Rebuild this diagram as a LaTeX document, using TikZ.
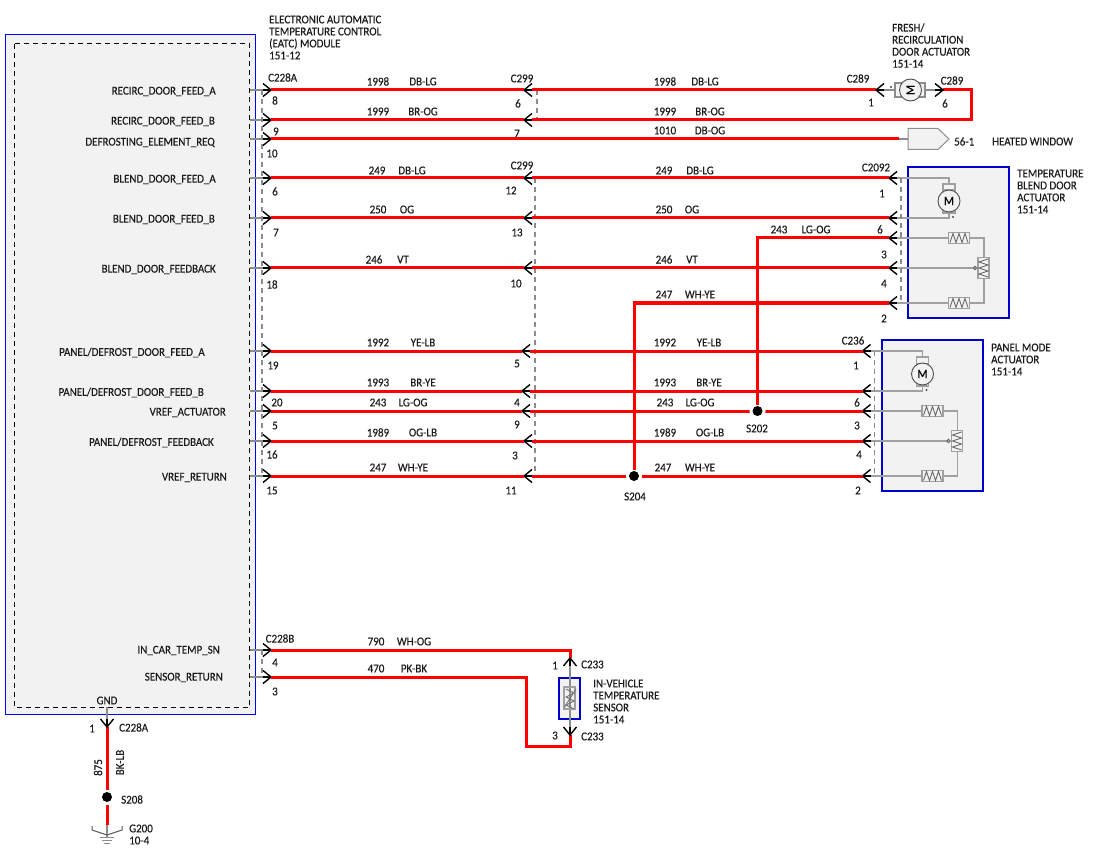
\documentclass[tikz,border=0pt]{standalone}
\usepackage{xcolor}
\usepackage{fontspec}
\setmainfont[FakeStretch=0.915,FakeBold=0.25]{Carlito}
\usepackage{tikz}
\usetikzlibrary{arrows,calc}

\definecolor{boxgray}{HTML}{F2F2F2}
\definecolor{stubgray}{HTML}{8C8C8C}
\definecolor{linegray}{HTML}{A0A0A0}
\definecolor{inkgray}{HTML}{1A1A1A}
\definecolor{compblue}{HTML}{0000CC}

\tikzset{
  wire/.style={draw=red, line width=3pt},
  stub/.style={draw=stubgray, line width=1.4pt},
  inner/.style={draw=linegray, line width=1.3pt},
  shield/.style={draw=stubgray, line width=1.6pt, dash pattern=on 5pt off 4pt},
  halo/.style={fill=white},
  lbl/.style={font=\fontsize{12}{12}\selectfont, text=inkgray, inner sep=0pt, align=left, yshift=-0.5pt},
  lble/.style={lbl, anchor=east},
  lblw/.style={lbl, anchor=west},
  pics/plug/.style={code={
    \draw[black, line width=1.4pt] (-8,-6.5) -- (0,0) -- (-8,6.5);
    \draw[black, line width=1.4pt] (-8,0) -- (0,0);
  }},
  pics/resist/.style={code={
    \draw[linegray, line width=1.2pt, fill=boxgray] (-10.5,-5.5) rectangle (10.5,5.5);
    \draw[black!60, line width=0.9pt] (-9,4.5) -- (-6,-4.5) -- (-3,4.5) -- (0,-4.5) -- (3,4.5) -- (6,-4.5) -- (9,4.5);
  }},
  pics/actuator/.style={code={
    \draw[compblue, fill=boxgray, line width=2pt] (0,0) rectangle (101,151);
    \coordinate (-p1) at (-19,11);
    \coordinate (-p6) at (-19,51);
    \coordinate (-p3) at (-19,71);
    \coordinate (-p4) at (-19,101);
    \coordinate (-p2) at (-19,136);
    \draw[inner] (-p1) -- (41,11) -- (41,17);
    \draw[inner] (-p6) -- (41,51) -- (41,46);
    \draw[inner] (-p3) -- (76,71) -- (76,136) -- (-p2);
    \draw[inner] (-p4) -- (68,101);
    \draw[shield] (-7,11) -- (-7,136);
    \draw[linegray, line width=1.2pt, fill=boxgray] (35,17) rectangle (47,46);
    \draw[linegray, line width=1pt] (35,23) -- (47,23) (35,40) -- (47,40);
    \node[circle, draw=black!70, fill=boxgray, line width=0.9pt, minimum size=22pt, inner sep=0pt,
      font=\fontsize{13}{13}\selectfont] (-m) at (41,34) {M};
    \fill[black!70] (45,50) circle (1.2pt);
    \pic at (51,71) {resist};
    \pic at (51,136) {resist};
    \pic at (75.5,101) [rotate=90] {resist};
    \draw[black!60, line width=1pt, fill=boxgray] (67,101) circle (1.6pt);
    \pic at (-p1) [rotate=180] {plug};
    \pic at (-p6) [rotate=180] {plug};
    \pic at (-p3) [rotate=180] {plug};
    \pic at (-p4) [rotate=180] {plug};
    \pic at (-p2) [rotate=180] {plug};
  }}
}

% module side pin: name, row
\newcommand{\modpin}[2]{
  \coordinate (#1) at (271,#2);
  \coordinate (#1i) at (250,#2);
  \draw[stub] (#1i) -- (#1);
  \pic at (#1) {plug};
}
% inline connector: name, x, row
\newcommand{\midpin}[3]{
  \coordinate (#1) at (#2,#3);
  \coordinate (#1b) at ($(#1) + (8,0)$);
  \pic at (#1) [rotate=180] {plug};
}

\begin{document}
\begin{tikzpicture}[x=1pt, y=-1pt]
  \useasboundingbox (0,0) rectangle (1100,850);

  % module
  \draw[blue, fill=boxgray, line width=1pt] (5.5,35) rectangle (255.5,714);
  \draw[black, line width=1pt, dash pattern=on 5pt off 4pt] (14.5,44) rectangle (249.5,707);

  % shields
  \draw[shield] (262,90) -- (262,477);
  \draw[shield] (262,650) -- (262,677);
  \draw[shield] (537,90) -- (537,120);
  \draw[shield] (534.7,178) -- (534.7,477);

  % module pins
  \modpin{ma}{90}
  \modpin{mb}{120}
  \modpin{mc}{139}
  \modpin{md}{178}
  \modpin{me}{218}
  \modpin{mf}{268}
  \modpin{mg}{351}
  \modpin{mh}{391}
  \modpin{mi}{411}
  \modpin{mj}{441}
  \modpin{mk}{476}
  \modpin{ml}{650}
  \modpin{mm}{677}

  % actuators
  \pic (tb) at (908,167) {actuator};
  \pic (pm) at (881.5,340) {actuator};

  % fresh air door motor
  \coordinate (fa) at (876,90);
  \coordinate (fb) at (943,90);
  \coordinate (fab) at (883,90);
  \coordinate (fbb) at (936,90);
  \coordinate (fc) at (971,90);
  \coordinate (fd) at (971,120);
  \draw[stub] (fab) -- (fbb);
  \draw[stubgray, line width=1.2pt, fill=boxgray] (895,83) rectangle (925,97);
  \node[circle, draw=black!70, fill=boxgray, line width=0.9pt, minimum size=22pt, inner sep=0pt,
    font=\fontsize{13}{13}\selectfont, rotate=90] (fm) at (910.5,90) {M};
  \fill[black!70] (891,87) circle (1.2pt);

  % heated window connector
  \coordinate (hw) at (899,139);
  \coordinate (hwbox) at (908,139);
  \draw[stubgray, fill=boxgray, line width=1pt] (908,128.5) -- (938,128.5) -- (949,139) -- (938,149.5) -- (908,149.5) -- cycle;
  \draw[stub] (hw) -- (hwbox);

  % inline connectors
  \midpin{xa}{524}{90}
  \midpin{xb}{524}{120}
  \midpin{xd}{524}{178}
  \midpin{xe}{524}{218}
  \midpin{xf}{524}{268}
  \midpin{xg}{522}{351}
  \midpin{xh}{522}{391}
  \midpin{xi}{522}{411}
  \midpin{xj}{524}{441}
  \midpin{xk}{524}{476}

  % splices
  \coordinate (sb) at (757.5,411);
  \coordinate (sc) at (634,476);
  \coordinate (sbt) at (757.5,238);
  \coordinate (sct) at (634,303);

  % wires
  \draw[wire] (ma) -- (xa) (xab) -- (fa);
  \draw[wire] (fb) -- (fc) -- (fd) -- (xbb) (xb) -- (mb);
  \draw[wire] (mc) -- (hw);
  \draw[wire] (md) -- (xd) (xdb) -- (tb-p1);
  \draw[wire] (me) -- (xe) (xeb) -- (tb-p6);
  \draw[wire] (sbt) -- (tb-p3);
  \draw[wire] (mf) -- (xf) (xfb) -- (tb-p4);
  \draw[wire] (sct) -- (tb-p2);
  \draw[wire] (mg) -- (xg) (xgb) -- (pm-p1);
  \draw[wire] (mh) -- (xh) (xhb) -- (pm-p6);
  \draw[wire] (mi) -- (xi) (xib) -- (pm-p3);
  \draw[wire] (mj) -- (xj) (xjb) -- (pm-p4);
  \draw[wire] (mk) -- (xk) (xkb) -- (pm-p2);
  \fill[halo] (sb) circle (8pt);
  \fill[halo] (sc) circle (8pt);
  \draw[wire, line cap=rect] (sbt) -- ($(sb) + (0,-8)$);
  \draw[wire, line cap=rect] (sct) -- ($(sc) + (0,-8)$);
  \fill[black] (sb) circle (5pt);
  \fill[black] (sc) circle (5pt);

  % plugs at the fresh air motor
  \pic at (fa) [rotate=180] {plug};
  \pic at (fb) {plug};

  % sensor
  \coordinate (sa) at (570,658);
  \coordinate (sd) at (570,735);
  \coordinate (se) at (570,650);
  \coordinate (sf) at (570,746);
  \coordinate (sg) at (526,746);
  \coordinate (sh) at (526,677);
  \draw[wire] (ml) -- (se) -- (sa);
  \draw[wire] (sd) -- (sf) -- (sg) -- (sh) -- (mm);
  \draw[compblue, fill=boxgray, line width=2pt] (559,678) rectangle (580,719);
  \draw[stub] (sa) -- (sd);
  \draw[linegray, line width=1.2pt] (564,687) rectangle (575,709);
  \draw[black!55, line width=0.9pt] (566,689) -- (574,693) -- (566,697) -- (574,701) -- (566,705) -- (574,709);
  \draw[black!55, line width=0.9pt] (564,708) -- (576,689);
  \pic at (sa) [rotate=90] {plug};
  \pic at (sd) [rotate=-90] {plug};

  % ground
  \coordinate (ga) at (107,707);
  \coordinate (gb) at (107,727);
  \coordinate (gc) at (107,797);
  \coordinate (gd) at (107,825);
  \coordinate (ge) at (107,837);
  \draw[stub] (ga) -- (gb);
  \draw[wire] (gb) -- ($(gc) + (0,-7)$);
  \draw[wire] ($(gc) + (0,8)$) -- (gd);
  \fill[black] (gc) circle (5pt);
  \draw[stub] (gd) -- (ge);
  \pic at (gb) [rotate=-90] {plug};
  \draw[black!65, line width=1pt] (92,826) -- (92,830) -- (107,835) -- (122,830) -- (122,826);
  \draw[stubgray, line width=1pt] (100,837) -- (114,837) (102,840) -- (112,840) (104,843) -- (110,843);

  % signal names
  \node[lble] (sa1) at (216,91) {RECIRC\_DOOR\_FEED\_A};
  \node[lble] (sa2) at (215,121) {RECIRC\_DOOR\_FEED\_B};
  \node[lble] (sa3) at (215,142) {DEFROSTING\_ELEMENT\_REQ};
  \node[lble] (sa4) at (216,179) {BLEND\_DOOR\_FEED\_A};
  \node[lble] (sa5) at (215,219) {BLEND\_DOOR\_FEED\_B};
  \node[lble] (sa6) at (216,269) {BLEND\_DOOR\_FEEDBACK};
  \node[lble] (sa7) at (205,352) {PANEL/DEFROST\_DOOR\_FEED\_A};
  \node[lble] (sa8) at (204,392) {PANEL/DEFROST\_DOOR\_FEED\_B};
  \node[lble] (sa9) at (226,412) {VREF\_ACTUATOR};
  \node[lble] (sa10) at (214,442) {PANEL/DEFROST\_FEEDBACK};
  \node[lble] (sa11) at (227,477) {VREF\_RETURN};
  \node[lble] (sa12) at (220,650) {IN\_CAR\_TEMP\_SN};
  \node[lble] (sa13) at (223,677) {SENSOR\_RETURN};
  \node[lbl] (sa14) at (107,700) {GND};

  % component names
  \node[lblw] (n1) at (269,37) {ELECTRONIC AUTOMATIC\\TEMPERATURE CONTROL\\(EATC) MODULE\\151-12};
  \node[lblw] (n2) at (892,45) {FRESH/\\RECIRCULATION\\DOOR ACTUATOR\\151-14};
  \node[lblw] (n3) at (1017,191) {TEMPERATURE\\BLEND DOOR\\ACTUATOR\\151-14};
  \node[lblw] (n4) at (991,359) {PANEL MODE\\ACTUATOR\\151-14};
  \node[lblw] (n5) at (593,701) {IN-VEHICLE\\TEMPERATURE\\SENSOR\\151-14};
  \node[lblw] (n6) at (954,141) {56-1};
  \node[lblw] (n7) at (992,141) {HEATED WINDOW};

  % connector names
  \node[lblw] (c1) at (268,77) {C228A};
  \node[lbl] (c2) at (522,78) {C299};
  \node[lbl] (c3) at (522,165) {C299};
  \node[lbl] (c4) at (858,78) {C289};
  \node[lbl] (c5) at (952,80) {C289};
  \node[lbl] (c6) at (876,167) {C2092};
  \node[lbl] (c7) at (853,340) {C236};
  \node[lbl] (c8) at (280,638) {C228B};
  \node[lblw] (c9) at (581,664) {C233};
  \node[lblw] (c10) at (581,736) {C233};
  \node[lblw] (c11) at (119,727) {C228A};
  \node[lbl] (c12) at (757,428) {S202};
  \node[lbl] (c13) at (635,496) {S204};
  \node[lblw] (c14) at (121,799) {S208};
  \node[lblw] (c15) at (129,828) {G200};
  \node[lblw] (c16) at (129,840) {10-4};

  % pin numbers, module
  \node[lbl] (p1) at (275,100) {8};
  \node[lbl] (p2) at (276,131) {9};
  \node[lbl] (p3) at (272,153) {10};
  \node[lbl] (p4) at (275,191) {6};
  \node[lbl] (p5) at (276,232) {7};
  \node[lbl] (p6) at (272,284) {18};
  \node[lbl] (p7) at (273,365) {19};
  \node[lbl] (p8) at (277,402) {20};
  \node[lbl] (p9) at (275,425) {5};
  \node[lbl] (p10) at (272,454) {16};
  \node[lbl] (p11) at (272,490) {15};
  \node[lbl] (p12) at (275,662) {4};
  \node[lbl] (p13) at (275,691) {3};
  \node[lbl] (p14) at (92,728) {1};

  % pin numbers, C299
  \node[lbl] (q1) at (518,103) {6};
  \node[lbl] (q2) at (517,133) {7};
  \node[lbl] (q3) at (511,190) {12};
  \node[lbl] (q4) at (517,232) {13};
  \node[lbl] (q5) at (516,283) {10};
  \node[lbl] (q6) at (517,363) {5};
  \node[lbl] (q7) at (517,402) {4};
  \node[lbl] (q8) at (517,424) {9};
  \node[lbl] (q9) at (515,455) {3};
  \node[lbl] (q10) at (511,490) {11};

  % pin numbers, components
  \node[lbl] (r1) at (871,102) {1};
  \node[lbl] (r2) at (945,103) {6};
  \node[lbl] (r3) at (882,193) {1};
  \node[lbl] (r4) at (880,229) {6};
  \node[lbl] (r5) at (884,254) {3};
  \node[lbl] (r6) at (884,283) {4};
  \node[lbl] (r7) at (884,318) {2};
  \node[lbl] (r8) at (856,365) {1};
  \node[lbl] (r9) at (857,402) {6};
  \node[lbl] (r10) at (857,425) {3};
  \node[lbl] (r11) at (859,454) {4};
  \node[lbl] (r12) at (858,490) {2};
  \node[lbl] (r13) at (555,665) {1};
  \node[lbl] (r14) at (555,735) {3};

  % wire numbers, left
  \node[lbl] (w1) at (378,81) {1998};
  \node[lbl] (w2) at (423,81) {DB-LG};
  \node[lbl] (w3) at (378,111) {1999};
  \node[lbl] (w4) at (423,111) {BR-OG};
  \node[lbl] (w5) at (377,170) {249};
  \node[lbl] (w6) at (412,170) {DB-LG};
  \node[lbl] (w7) at (378,209) {250};
  \node[lbl] (w8) at (407,209) {OG};
  \node[lbl] (w9) at (374,259) {246};
  \node[lbl] (w10) at (403,259) {VT};
  \node[lbl] (w11) at (378,342) {1992};
  \node[lbl] (w12) at (423,342) {YE-LB};
  \node[lbl] (w13) at (378,382) {1993};
  \node[lbl] (w14) at (423,382) {BR-YE};
  \node[lbl] (w15) at (378,402) {243};
  \node[lbl] (w16) at (413,402) {LG-OG};
  \node[lbl] (w17) at (378,432) {1989};
  \node[lbl] (w18) at (423,432) {OG-LB};
  \node[lbl] (w19) at (378,467) {247};
  \node[lbl] (w20) at (413,467) {WH-YE};
  \node[lbl] (w21) at (376,641) {790};
  \node[lbl] (w22) at (414,641) {WH-OG};
  \node[lbl] (w23) at (376,668) {470};
  \node[lbl] (w24) at (414,668) {PK-BK};
  \node[lbl, rotate=90] (w25) at (98,767) {875};
  \node[lbl, rotate=90] (w26) at (120,762) {BK-LB};

  % wire numbers, right
  \node[lbl] (v1) at (665,81) {1998};
  \node[lbl] (v2) at (705,81) {DB-LG};
  \node[lbl] (v3) at (665,111) {1999};
  \node[lbl] (v4) at (710,111) {BR-OG};
  \node[lbl] (v5) at (665,130) {1010};
  \node[lbl] (v6) at (710,130) {DB-OG};
  \node[lbl] (v7) at (664,170) {249};
  \node[lbl] (v8) at (700,170) {DB-LG};
  \node[lbl] (v9) at (664,209) {250};
  \node[lbl] (v10) at (692,209) {OG};
  \node[lbl] (v11) at (779,229) {243};
  \node[lbl] (v12) at (816,229) {LG-OG};
  \node[lbl] (v13) at (664,259) {246};
  \node[lbl] (v14) at (692,259) {VT};
  \node[lbl] (v15) at (664,294) {247};
  \node[lbl] (v16) at (700,294) {WH-YE};
  \node[lbl] (v17) at (665,342) {1992};
  \node[lbl] (v18) at (709,342) {YE-LB};
  \node[lbl] (v19) at (665,382) {1993};
  \node[lbl] (v20) at (709,382) {BR-YE};
  \node[lbl] (v21) at (665,402) {243};
  \node[lbl] (v22) at (700,402) {LG-OG};
  \node[lbl] (v23) at (665,432) {1989};
  \node[lbl] (v24) at (710,432) {OG-LB};
  \node[lbl] (v25) at (663,467) {247};
  \node[lbl] (v26) at (700,467) {WH-YE};
\end{tikzpicture}
\end{document}
